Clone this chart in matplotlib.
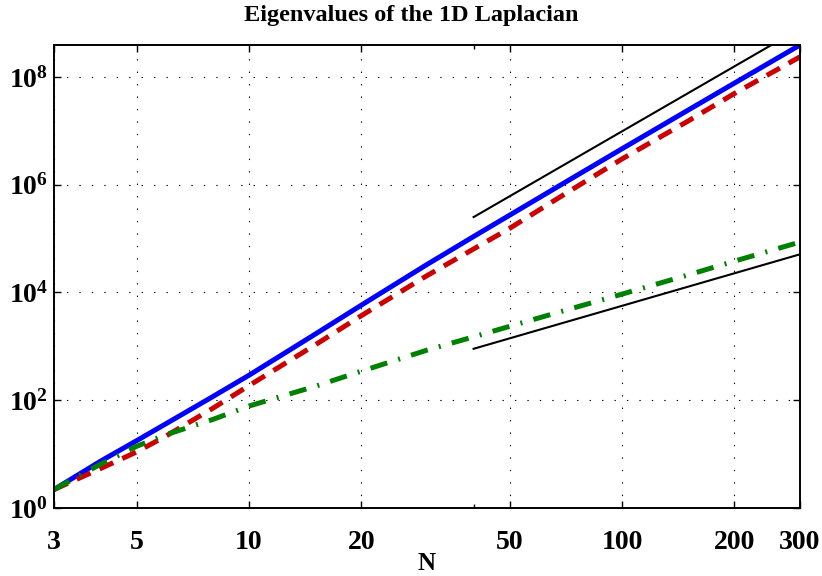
import numpy as np
import matplotlib
matplotlib.use("Agg")
import matplotlib.pyplot as plt
from matplotlib.ticker import FixedLocator, FixedFormatter, NullFormatter

plt.rcParams["font.family"] = ["Liberation Serif", "DejaVu Serif"]
plt.rcParams["font.weight"] = "bold"
plt.rcParams["mathtext.fontset"] = "custom"
plt.rcParams["mathtext.rm"] = "Liberation Serif:bold"
plt.rcParams["mathtext.bf"] = "Liberation Serif:bold"
plt.rcParams["mathtext.default"] = "rm"

# ---------------- data ----------------
N = [3, 4, 5, 6, 8, 10, 15, 20, 30, 40, 50, 70, 100, 150, 200, 300]
lam_blue = [2.2, 7.4, 17.8, 36.9, 117, 291, 1.66e3, 5.8e3, 3.3e4, 1.09e5, 2.72e5,
            1.08e6, 4.63e6, 2.39e7, 7.63e7, 3.9e8]
lam_red = [2.2, 5.4, 11, 21.8, 71, 187, 1.05e3, 3.7e3, 2.05e4, 6.4e4, 1.55e5,
           6.6e5, 3.0e6, 1.5e7, 4.9e7, 2.35e8]
lam_green = [2.2, 6.5, 14, 23, 44, 78, 180, 345, 850, 1.5e3, 2.35e3,
             4.6e3, 9.3e3, 2.1e4, 3.8e4, 8.6e4]

# reference slopes (start/end points)
ref_N = [40, 300]
ref_N4 = [2.5e5, 7.9e8]
ref_N2 = [900, 5.1e4]

xticks = [3, 5, 10, 20, 50, 100, 200, 300]
xticklabels = ["3", "5", "10", "20", "50", "100", "200", "300"]
yticks = [1e0, 1e2, 1e4, 1e6, 1e8]
yticklabels = [r"$10^{0}$", r"$10^{2}$", r"$10^{4}$", r"$10^{6}$", r"$10^{8}$"]

# ---------------- plot ----------------
fig = plt.figure(figsize=(8.22, 5.76), dpi=100)
ax = fig.add_axes([54 / 822, 1 - 508 / 576, 746 / 822, 463 / 576])

ax.loglog(N, lam_blue, color="#0000ff", lw=3.6, solid_capstyle="butt")
ax.loglog(N, lam_red, color="#cc0000", lw=3.6, dashes=(3.0, 2.0), dash_capstyle="butt")
ax.loglog(N, lam_green, color="#008000", lw=3.6, dashes=(3.5, 2.3, 0.4, 2.3), dash_capstyle="butt")
ax.loglog(ref_N, ref_N4, color="k", lw=1.5)
ax.loglog(ref_N, ref_N2, color="k", lw=1.5)

ax.set_xlim(3, 300)
ax.set_ylim(1, 3.9e8)

ax.xaxis.set_major_locator(FixedLocator(xticks))
ax.xaxis.set_major_formatter(FixedFormatter(xticklabels))
ax.xaxis.set_minor_locator(FixedLocator([40]))
ax.xaxis.set_minor_formatter(NullFormatter())
ax.yaxis.set_major_locator(FixedLocator(yticks))
ax.yaxis.set_major_formatter(FixedFormatter(yticklabels))
ax.yaxis.set_minor_locator(FixedLocator([]))

ax.tick_params(which="both", direction="in", top=True, right=True, labelsize=20)
ax.tick_params(which="major", length=5, width=1.0)
ax.tick_params(which="minor", length=3, width=1.0)
ax.tick_params(axis="x", pad=16)
ax.tick_params(axis="y", pad=4)
for s in ax.spines.values():
    s.set_linewidth(1.4)

ax.grid(True, which="major", color="k", lw=0.8, linestyle=(0, (1.2, 10)))

# title sits centred on the figure, a bit left of the axes centre
ax.set_title("Eigenvalues of the 1D Laplacian", fontsize=17.5, fontweight="bold",
             pad=17, x=(411 - 54) / 746)
ax.set_xlabel("N", fontsize=18, fontweight="bold", labelpad=-2)

fig.savefig("out.png", dpi=100)
